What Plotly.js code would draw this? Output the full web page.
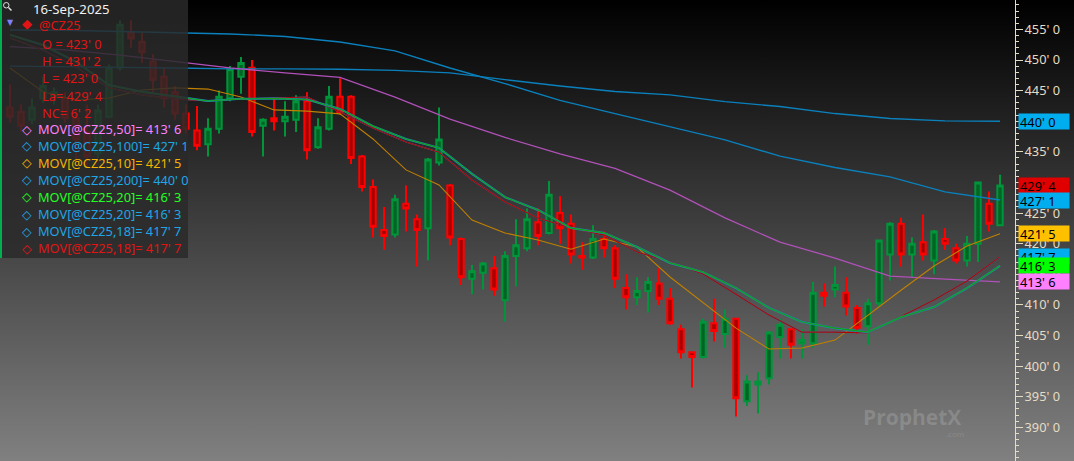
<!DOCTYPE html>
<html>
<head>
<meta charset="utf-8">
<script src="https://cdn.plot.ly/plotly-3.0.1.min.js"></script>
<style>
html,body{margin:0;padding:0;background:#000;}
#chart{width:1074px;height:461px;background:linear-gradient(to bottom,#000000 0%,#808080 100%);}
</style>
</head>
<body>
<div id="chart"></div>
<script>
// ---------- DATA ----------
const lastDate = '16-Sep-2025';
const symbol = '@CZ25';
const candleOpen  = [442.25,441.5,440.25,443.75,444,443.75,440.5,438.25,434.75,440.75,448.75,454.5,453,449.75,447.25,444.75,441.25,438.5,436.25,438.75,443.75,447.25,448.75,439.25,440.5,440,440.25,443.25,435.75,438.75,444,444,434.25,429.25,422.25,421.5,426.5,424,422.5,433.25,429.5,420.75,414.25,415.25,416,410.75,418,419.25,423.5,421.75,425,423.25,418,417.75,420.75,419.25,412.75,411.25,412.25,413.5,411,406,402.25,401.5,407,405.25,407.75,394.25,397,398,404.75,406,403.75,403.75,412,412.5,412,409.5,406.5,410.25,418.25,423.25,418.25,420.25,417.25,420.75,419.25,417.25,420,426.5,423];
const candleHigh  = [446,442.75,443.75,447.25,445.5,444.75,441.75,442.75,442.75,449.25,456.5,456.5,454.5,451,448.75,445.75,442.75,442.5,440.5,445,449,450.5,450,440.5,443.75,443.25,444.25,444.75,440.5,445.75,447,444.25,434.5,430.5,426,428,429.5,424.75,434,442.25,429.75,421,416.5,417,418,418.75,424,425.75,425.75,430.25,427.75,424.75,420.25,423,422,419.75,415,414.5,414.5,416,412.75,406.75,402.25,407.75,411,409.25,407.75,398.5,399,405.75,407.75,406,406,413.75,413.5,416.25,414.5,410,411,420.5,423.5,424.25,421,424.75,422.25,422.5,420,421.25,430,428.5,431.25];
const candleLow   = [439.75,438.25,439.5,443,442.75,439.75,433.25,432.75,434,440.5,448.25,452,449.5,444.75,442.25,440.25,438,435.25,434.25,438,443.25,444.5,437.5,434.25,438.5,437.5,438.25,433.75,435.5,438.5,441,433,428.5,421,419,421,422,416.25,417.25,432.75,419.75,413.25,411.75,412.5,411.5,407.25,413,418.75,419.75,421.5,420,416.75,415.75,417.5,417.75,412.75,409.25,410,408.75,410,406.75,401.25,396.5,401.25,404,403,391.75,393.5,392.25,397,401.25,401.25,401.25,403,409.75,411.25,408.25,405.25,403.5,409.75,414,416.25,414.5,417.25,415,419,416.75,416.25,417,422,423];
const candleClose = [440.75,439.25,442.25,445.75,444.75,440.5,437,434.25,441.75,448.75,455.75,453.5,451.25,446.75,443.75,441.25,438.75,436,438.75,444,448.5,449.5,438.25,440.25,440,440.75,443.25,435.25,439,444,441.5,434,429.25,422.75,421.25,427.25,425.75,422.25,433.75,437,421,414.5,415.5,416.75,412.5,418,419.75,424,421.25,428,422.5,418.25,417.75,420.75,419.25,414.25,411.25,412.25,413.75,411,407,402.25,401.5,407.25,405.75,407.75,394.75,397.5,397.5,405.5,406.75,403.5,404.25,412,411.5,413.25,409.75,406.25,410.25,420.5,423.25,418.25,420,418.25,422,420,417.25,420,430,423.25,429.5];

// moving averages, read every 5 sessions (long) and every 3 sessions (short)
const maLongIdx = [0,5,10,15,20,25,30,35,40,45,50,55,60,65,70,75,80,85,90];
const ma200 = [449.0,448.85,448.8,448.7,448.55,448.55,448.5,448.3,447.9,446.8,445.75,444.85,444.3,443.2,442.4,441.25,440.45,440.05,440.0];
const ma100 = [454.9,454.85,454.65,454.5,454.25,453.85,452.95,451.5,448.7,446.15,443.4,441.25,439.05,436.95,434.3,432.45,430.9,428.45,427.125];
const ma50  = [452.2,451.65,450.8,449.7,448.7,447.9,447.15,443.95,440.35,437.35,434.65,432.3,428.75,424.2,420.25,417.65,414.7,414.2,413.75];
const maShortIdx = [0,3,6,9,12,15,18,21,24,27,30,33,36,39,42,45,48,51,54,57,60,63,66,69,72,75,78,81,84,87,90];
const ma10 = [448.7,444.8,443.45,443.8,445.1,445.45,445.25,443.95,441.85,441.65,441.2,437.1,432.05,429.6,423.85,421.75,420.6,419.1,420.75,419.45,414.55,410.3,406.2,402.8,402.95,404.25,408.35,412.4,416.35,419.6,421.625];
const ma20 = [454.1,452.45,449.7,445.9,444.8,444.1,443.3,443.65,443.7,443.55,442.0,439.2,437.1,435.65,431.4,427.6,425.5,422.55,421.75,419.45,416.85,415.35,412.75,409.5,407.2,406.2,405.55,408.0,409.65,412.75,416.375];
const ma18 = [453.6,451.65,448.85,445.45,444.3,443.65,443.3,443.65,443.8,443.95,441.5,438.9,436.6,434.95,430.4,426.8,424.2,422.55,421.4,418.65,417.0,415.05,411.75,408.35,405.55,405.55,405.4,408.15,410.8,413.9,417.875];

const tickValues = [390,395,400,405,410,415,420,425,430,435,440,445,450,455];

// ---------- HELPERS ----------
function fmt(v){
  let w = Math.floor(v + 1e-9);
  let e = Math.round((v - w) * 8);
  if (e === 8) { w += 1; e = 0; }
  return w + "' " + e;
}
const last = a => a[a.length - 1];
const W = 1074, H = 461, R = 59;
const PW = W - R;
const px = v => v / PW;          // pixel -> paper x
const py = v => 1 - v / H;       // pixel -> paper y

const candleIdx = candleOpen.map((_, i) => i);

// colours
const cBlue = '#1ea6e6', cPink = '#ff80ff', cOrange = '#f2b400', cGreen = '#22ff22', cRed = '#e01414';

const traces = [
  {x: maLongIdx, y: ma200, type:'scatter', mode:'lines', line:{color:'#0a80bc', width:1.4}},
  {x: maLongIdx, y: ma100, type:'scatter', mode:'lines', line:{color:'#0a80bc', width:1.4}},
  {x: maLongIdx, y: ma50,  type:'scatter', mode:'lines', line:{color:'#b050b8', width:1.3}},
  {x: maShortIdx, y: ma10, type:'scatter', mode:'lines', line:{color:'#c08000', width:1.1}},
  {x: maShortIdx, y: ma18, type:'scatter', mode:'lines', line:{color:'#1e8ac8', width:1.1}},
  {x: maShortIdx, y: ma18, type:'scatter', mode:'lines', line:{color:'#b00000', width:1.1}},
  {x: maShortIdx, y: ma20, type:'scatter', mode:'lines', line:{color:'#1e8ac8', width:2}},
  {x: maShortIdx, y: ma20, type:'scatter', mode:'lines', line:{color:'#10a010', width:1.2}},
  {
    type:'candlestick', x: candleIdx,
    open: candleOpen, high: candleHigh, low: candleLow, close: candleClose,
    increasing:{line:{color:'#00953a', width:2}, fillcolor:'#006424'},
    decreasing:{line:{color:'#ff0000', width:2}, fillcolor:'#a80000'},
    whiskerwidth:0
  }
];

// ---------- LEGEND BOX ----------
const legendFont = 'Noto Sans, DejaVu Sans, sans-serif';
const FS = 12.8;
const ann = [];
function txt(x, y, text, color, size, family){
  ann.push({xref:'paper', yref:'paper', x:px(x), y:py(y), xanchor:'left', yanchor:'middle',
    text:text, showarrow:false, font:{color:color, size:size||FS, family:family||legendFont}, borderpad:0});
}
const lastO = last(candleOpen), lastH = last(candleHigh), lastL = last(candleLow), lastC = last(candleClose);
const netChange = lastC - candleClose[candleClose.length - 2];

txt(32, 9, lastDate, '#f0f0f0', 13.2);
txt(6, 22, '▼', '#8080ff', 8, 'DejaVu Sans');
txt(21, 23, '◆', cRed, 13, 'DejaVu Sans');
txt(38, 25, symbol, cRed);
txt(41, 44, 'O = ' + fmt(lastO), cRed);
txt(41, 61, 'H = ' + fmt(lastH), cRed);
txt(41, 78, 'L = ' + fmt(lastL), cRed);
txt(41, 96, 'La= ' + fmt(lastC), cRed);
txt(41, 113, 'NC= ' + fmt(netChange), cRed);

const maLegend = [
  ['MOV[' + symbol + ',50]= ',  last(ma50),  cPink],
  ['MOV[' + symbol + ',100]= ', last(ma100), cBlue],
  ['MOV[' + symbol + ',10]= ',  last(ma10),  cOrange],
  ['MOV[' + symbol + ',200]= ', last(ma200), cBlue],
  ['MOV[' + symbol + ',20]= ',  last(ma20),  cGreen],
  ['MOV[' + symbol + ',20]= ',  last(ma20),  cBlue],
  ['MOV[' + symbol + ',18]= ',  last(ma18),  cBlue],
  ['MOV[' + symbol + ',18]= ',  last(ma18),  cRed]
];
maLegend.forEach((m, i) => {
  const yy = 129 + i * 17;
  txt(21, yy, '◇', m[2], 12.5, 'DejaVu Sans');
  txt(37, yy, m[0] + fmt(m[1]), m[2]);
});

// ---------- PRICE BOXES ON AXIS ----------
const priceBoxes = [
  [last(ma200), '#00aeef'],
  [lastC, '#e00000'],
  [last(ma100), '#00aeef'],
  [last(ma10), '#ffc000'],
  [last(ma18), '#00aeef'],
  [last(ma20), '#00ff00'],
  [last(ma50), '#ff80ff']
];
priceBoxes.forEach(b => {
  ann.push({xref:'paper', yref:'y', x:1, xshift:3, y:b[0], xanchor:'left', yanchor:'middle',
    text:fmt(b[0]), showarrow:false, bgcolor:b[1], width:48, height:13, align:'left', borderpad:1,
    font:{color:'#000', size:12.8, family:legendFont}});
});

// watermark
ann.push({xref:'paper', yref:'paper', x:px(912), y:py(417), xanchor:'center', yanchor:'middle',
  text:'<b>ProphetX</b>', showarrow:false, font:{color:'rgba(255,255,255,0.16)', size:21, family:'Open Sans, sans-serif'}});
ann.push({xref:'paper', yref:'paper', x:px(944), y:py(433), xanchor:'left', yanchor:'middle',
  text:'.com', showarrow:false, font:{color:'rgba(255,255,255,0.14)', size:8, family:'Open Sans, sans-serif'}});

const shapes = [
  {type:'rect', xref:'paper', yref:'paper', x0:0, x1:px(188), y0:py(258), y1:1,
   fillcolor:'rgba(42,42,42,0.84)', line:{width:0}, layer:'above'},
  {type:'line', xref:'paper', yref:'paper', x0:px(1), x1:px(1), y0:py(258), y1:1,
   line:{color:'#00b050', width:2}, layer:'above'},
  {type:'circle', xref:'paper', yref:'paper', x0:px(3.5), x1:px(9), y0:py(8), y1:py(2.5),
   line:{color:'#e0e0e0', width:1}, layer:'above'},
  {type:'line', xref:'paper', yref:'paper', x0:px(8.5), x1:px(11.5), y0:py(7.5), y1:py(10.5),
   line:{color:'#e0e0e0', width:1.5}, layer:'above'}
];

const axisCol = '#e6dcc4';
const layout = {
  width:W, height:H,
  margin:{l:0, r:R, t:0, b:0, pad:0},
  paper_bgcolor:'rgba(0,0,0,0)', plot_bgcolor:'rgba(0,0,0,0)',
  showlegend:false, hovermode:false,
  boxgap:0.3,
  xaxis:{range:[-10/11, (PW - 10)/11], visible:false, rangeslider:{visible:false}, fixedrange:true},
  yaxis:{
    side:'right', range:[384.5, 459.8], fixedrange:true,
    tickmode:'array', tickvals:tickValues, ticktext:tickValues.map(fmt),
    ticks:'outside', ticklen:7, tickwidth:1, tickcolor:axisCol,
    showline:true, linecolor:axisCol, linewidth:1,
    showgrid:false, zeroline:false, ticklabelstandoff:-1,
    tickfont:{color:axisCol, size:12.8, family:legendFont},
    minor:{tickmode:'linear', tick0:0, dtick:1, ticks:'outside', ticklen:3, tickcolor:axisCol, showgrid:false}
  },
  shapes:shapes,
  annotations:ann
};

Plotly.newPlot('chart', traces, layout, {displayModeBar:false, staticPlot:true});
</script>
</body>
</html>
